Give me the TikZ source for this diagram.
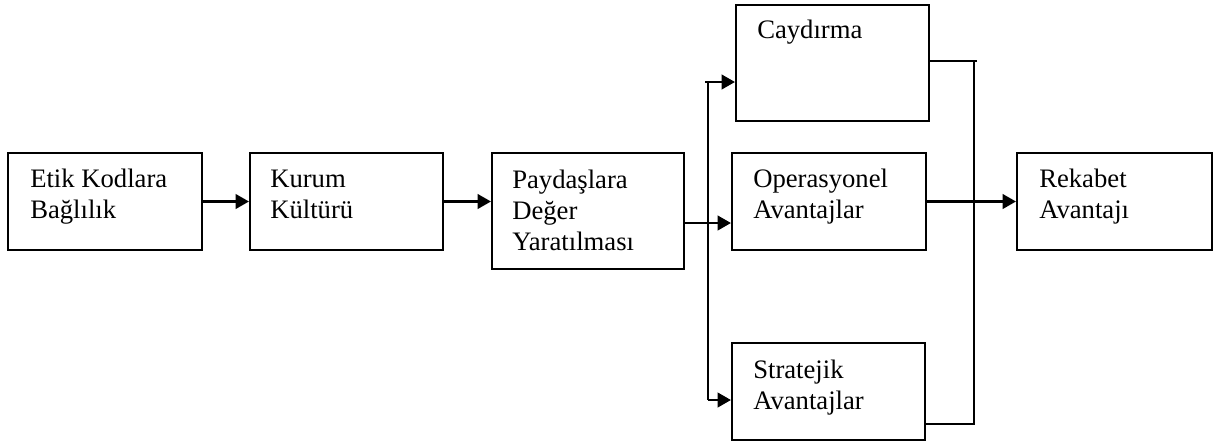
\documentclass[tikz,border=0pt]{standalone}
\usepackage{fontspec}
\setmainfont{Liberation Serif}
\usetikzlibrary{arrows.meta}
\begin{document}
\begin{tikzpicture}[x=0.75pt,y=-0.75pt,
  bx/.style 2 args={draw,line width=1.6pt,inner sep=0pt,minimum width=#1*0.75pt,minimum height=#2*0.75pt},
  lbl/.style={inner sep=0pt,anchor=base west,align=left,font=\fontsize{20pt}{23pt}\selectfont},
  con/.style={line width=1.6pt},
  arr/.style={line width=1.6pt,-{Triangle[length=10pt,width=11pt]}}]
\useasboundingbox (0,0) rectangle (1219,443);
% boxes
\node[bx={194}{97}] (etik) at (105,201.5) {};
\node[bx={193}{97}] (kurum) at (346.5,201.5) {};
\node[bx={192}{116}] (pay) at (588,211) {};
\node[bx={193}{116}] (cay) at (832.5,63) {};
\node[bx={194}{97}] (op) at (829,201.5) {};
\node[bx={193}{97}] (str) at (828.5,391.5) {};
\node[bx={195}{97}] (rek) at (1114.5,201.5) {};
% texts (anchored at the baseline of the last line)
\node[lbl] (tetik) at (30,218) {Etik Kodlara\\Bağlılık};
\node[lbl] (tkurum) at (270,218) {Kurum\\Kültürü};
\node[lbl] (tpay) at (512,250) {Paydaşlara\\Değer\\Yaratılması};
\node[lbl] (tcay) at (757,38) {Caydırma};
\node[lbl] (top) at (753,218) {Operasyonel\\Avantajlar};
\node[lbl] (tstr) at (753,409) {Stratejik\\Avantajlar};
\node[lbl] (trek) at (1039,218) {Rekabet\\Avantajı};
% connector coordinates
\coordinate (s) at (708,223);
\coordinate (st) at (708,82);
\coordinate (sb) at (708,400);
\coordinate (mt) at (974,61);
\coordinate (mb) at (974,424);
% connectors
\draw[arr] (etik.east) -- (kurum.west);
\draw[arr] (kurum.east) -- (kurum.east -| pay.west);
\draw[con] (s -| pay.east) -- (s);
\draw[arr] (s) -- (s -| op.west);
\draw[arr] ([xshift=-2pt]st) -- (st -| cay.west);
\draw[con] (st) -- (sb);
\draw[arr] (sb) -- (sb -| str.west);
\draw[con] (mt -| cay.east) -- ([xshift=2.5pt]mt);
\draw[con] (mt) -- (mb) -- (mb -| str.east);
\draw[arr] (op.east) -- (rek.west);
\end{tikzpicture}
\end{document}
